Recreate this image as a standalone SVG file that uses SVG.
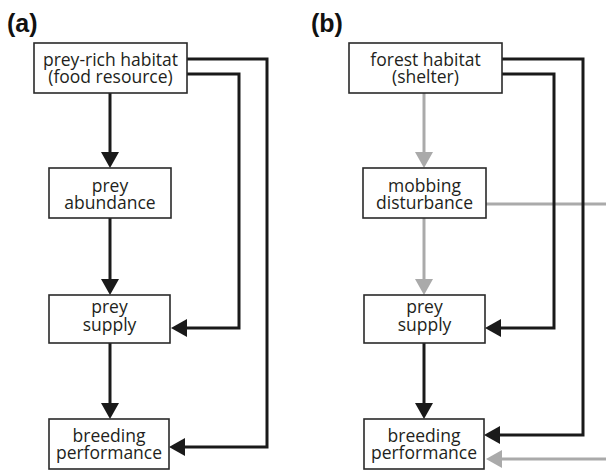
<svg xmlns="http://www.w3.org/2000/svg" width="606" height="471" viewBox="0 0 606 471">
<defs>
<style>
.box{fill:#fff;stroke:#2a2a2a;stroke-width:1.6}
.t{font-family:"Open Sans","Noto Sans",sans-serif;font-size:17.5px;fill:#231f20;text-anchor:middle}
.lbl{font-family:"Liberation Sans",Arial,sans-serif;font-size:25px;font-weight:bold;fill:#111}
.k{fill:none;stroke:#1a1a1a;stroke-width:3}
.g{fill:none;stroke:#aaaaaa;stroke-width:3}
</style>
<marker id="ak" markerUnits="userSpaceOnUse" markerWidth="16" markerHeight="18" refX="8" refY="9" orient="auto" viewBox="0 0 16 18"><path d="M0,0 L16,9 L0,18 z" fill="#1a1a1a"/></marker>
<marker id="ag" markerUnits="userSpaceOnUse" markerWidth="16" markerHeight="18" refX="8" refY="9" orient="auto" viewBox="0 0 16 18"><path d="M0,0 L16,9 L0,18 z" fill="#aaaaaa"/></marker>
</defs>
<rect width="606" height="471" fill="#fff"/>
<text class="lbl" x="7" y="32">(a)</text>
<text class="lbl" x="311" y="32">(b)</text>
<g id="connectors">
<path class="k" d="M110,93 V160" marker-end="url(#ak)"/>
<path class="k" d="M110,218 V287" marker-end="url(#ak)"/>
<path class="k" d="M110,343 V411" marker-end="url(#ak)"/>
<path class="k" d="M187,59 H267 V447 H177" marker-end="url(#ak)"/>
<path class="k" d="M187,74 H239 V328 H179" marker-end="url(#ak)"/>
<path class="g" d="M424,93 V160" marker-end="url(#ag)"/>
<path class="g" d="M424,218 V287" marker-end="url(#ag)"/>
<path class="g" d="M486,204 H620 V459 H494" marker-end="url(#ag)"/>
<path class="k" d="M424,343 V411" marker-end="url(#ak)"/>
<path class="k" d="M502,59 H583 V435 H492" marker-end="url(#ak)"/>
<path class="k" d="M502,74 H554 V328 H493" marker-end="url(#ak)"/>
</g>
<g id="a-habitat"><rect class="box" x="34" y="43" width="153" height="50"/><text class="t" x="110.5" y="65.5">prey-rich habitat</text><text class="t" x="110.5" y="83">(food resource)</text></g>
<g id="a-abundance"><rect class="box" x="49" y="168" width="122" height="50"/><text class="t" x="110" y="191.5">prey</text><text class="t" x="110" y="209">abundance</text></g>
<g id="a-supply"><rect class="box" x="49" y="295" width="121" height="48"/><text class="t" x="109.5" y="313">prey</text><text class="t" x="109.5" y="331">supply</text></g>
<g id="a-breeding"><rect class="box" x="49" y="419" width="120" height="50"/><text class="t" x="109" y="441.5">breeding</text><text class="t" x="109" y="459">performance</text></g>
<g id="b-habitat"><rect class="box" x="349" y="43" width="153" height="50"/><text class="t" x="425.5" y="65.5">forest habitat</text><text class="t" x="425.5" y="83">(shelter)</text></g>
<g id="b-mobbing"><rect class="box" x="363" y="168" width="123" height="50"/><text class="t" x="424.5" y="191.5">mobbing</text><text class="t" x="424.5" y="209">disturbance</text></g>
<g id="b-supply"><rect class="box" x="364" y="295" width="121" height="48"/><text class="t" x="424.5" y="313">prey</text><text class="t" x="424.5" y="331">supply</text></g>
<g id="b-breeding"><rect class="box" x="364" y="419" width="120" height="50"/><text class="t" x="424" y="441.5">breeding</text><text class="t" x="424" y="459">performance</text></g>
</svg>
